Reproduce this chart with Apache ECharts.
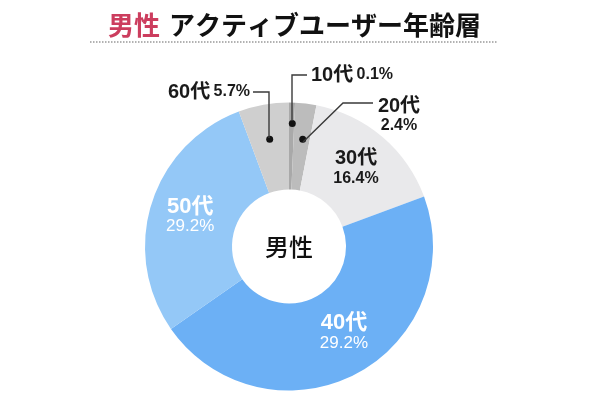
<!DOCTYPE html>
<html><head><meta charset="utf-8">
<script src="https://cdn.jsdelivr.net/npm/echarts@6/dist/echarts.min.js"></script>
<style>html,body{margin:0;padding:0;background:#fff}#c{width:600px;height:412px}</style>
</head><body><div id="c"></div>
<script>
const categories = ['10代', '20代', '30代', '40代', '50代', '60代'];
const values = [0.1, 2.4, 16.4, 46.2, 29.2, 5.7];
const percentLabels = ['0.1%', '2.4%', '16.4%', '29.2%', '29.2%', '5.7%'];
const colors = ['#a9a9a9', '#bcbcbc', '#e9e9eb', '#6cb0f5', '#94c8f7', '#cfcfcf'];
const titleRed = '男性';
const titleMain = 'アクティブユーザー年齢層';
const centerText = '男性';

const FONT = '"Liberation Sans", "Noto Sans CJK JP", sans-serif';
const CENTER = [289, 246.5];
const outsideIdx = [0, 1, 5];

// leader line geometry for the small slices (label annotation)
const leader = {
  0: { x: 311, y: 75, align: 'left', verticalAlign: 'middle', pts: [[292, 121], [292, 75], [307, 75]] },
  1: { x: 399, y: 96, align: 'center', verticalAlign: 'top', pts: [[303, 142], [343, 103], [373, 103]] },
  5: { x: 250, y: 92, align: 'right', verticalAlign: 'middle', pts: [[269, 138], [269, 92], [253, 92]] }
};

const mainData = categories.map((c, i) => {
  const item = { name: c, value: values[i], itemStyle: { color: colors[i] } };
  if (i === 0 || i === 5) {
    item.label = { show: true, position: 'outside', formatter: '{a|' + c + '} {b|' + percentLabels[i] + '}' };
  } else if (i === 1) {
    item.label = { show: true, position: 'outside', formatter: '{a|' + c + '}\n{b|' + percentLabels[i] + '}' };
  } else if (i === 2) {
    item.label = { show: true, position: 'inside', formatter: '{a|' + c + '}\n{b|' + percentLabels[i] + '}' };
  } else if (i === 3) {
    item.label = { show: true, position: 'inside', offset: [7, -6], formatter: '{w|' + c + '}\n{v|' + percentLabels[i] + '}' };
  } else {
    item.label = { show: true, position: 'inside', formatter: '{w|' + c + '}\n{v|' + percentLabels[i] + '}' };
  }
  item.labelLine = { show: false };
  return item;
});

const dotOffsets = { 0: [1, -14], 1: [1, 1], 5: [0, 0] };
const dotData = categories.map((c, i) => ({
  name: c, value: values[i],
  itemStyle: { color: 'rgba(0,0,0,0)' },
  label: outsideIdx.includes(i)
    ? { show: true, position: 'inside', formatter: '{d|}', offset: dotOffsets[i] }
    : { show: false }
}));

const leaderGraphics = outsideIdx.map(i => ({
  type: 'polyline', z: 100,
  shape: { points: leader[i].pts },
  style: { stroke: '#3a3a3a', lineWidth: 1.4, fill: null }
}));

const chart = echarts.init(document.getElementById('c'), null, { renderer: 'canvas' });
chart.setOption({
  animation: false,
  backgroundColor: '#fff',
  title: {
    text: '{r|' + titleRed + '}{k|' + titleMain + '}',
    left: 103, top: 10,
    textStyle: {
      rich: {
        r: { fontSize: 26, fontWeight: 'bold', color: '#cc3d5e', fontFamily: FONT, padding: [0, 9, 0, 0] },
        k: { fontSize: 26, fontWeight: 'bold', color: '#111', fontFamily: FONT }
      }
    }
  },
  graphic: [
    { type: 'line', shape: { x1: 90, y1: 42, x2: 497, y2: 42 }, style: { stroke: '#999', lineWidth: 1.5, lineDash: [1.5, 1.5] } },
    { type: 'text', style: { text: centerText, x: CENTER[0], y: CENTER[1] + 3, align: 'center', verticalAlign: 'middle', fontSize: 24, fontWeight: 500, fill: '#111', fontFamily: FONT } }
  ].concat(leaderGraphics),
  series: [
    {
      type: 'pie',
      center: CENTER,
      radius: [57, 144],
      startAngle: 90,
      clockwise: true,
      minAngle: 2.4,
      avoidLabelOverlap: false,
      silent: true,
      itemStyle: { borderWidth: 0 },
      label: {
        fontFamily: FONT,
        rich: {
          a: { fontSize: 20, fontWeight: 'bold', color: '#1a1a1a', fontFamily: FONT, lineHeight: 21, align: 'center' },
          b: { fontSize: 16, fontWeight: 'bold', color: '#1a1a1a', fontFamily: FONT, lineHeight: 18, align: 'center' },
          w: { fontSize: 22, fontWeight: 'bold', color: '#fff', fontFamily: FONT, lineHeight: 22, align: 'center' },
          v: { fontSize: 17, fontWeight: 'normal', color: '#fff', fontFamily: FONT, lineHeight: 18, align: 'center' }
        }
      },
      labelLayout: function (p) {
        const L = leader[p.dataIndex];
        if (!L || p.seriesIndex !== 0) return {};
        return { x: L.x, y: L.y, align: L.align, verticalAlign: L.verticalAlign };
      },
      data: mainData
    },
    {
      type: 'pie',
      center: CENTER,
      radius: [86, 126],
      startAngle: 90,
      clockwise: true,
      minAngle: 2.4,
      silent: true,
      z: 5,
      label: { rich: { d: { width: 7, height: 7, borderRadius: 3.5, backgroundColor: '#111' } } },
      labelLine: { show: false },
      data: dotData
    }
  ]
});
</script></body></html>
